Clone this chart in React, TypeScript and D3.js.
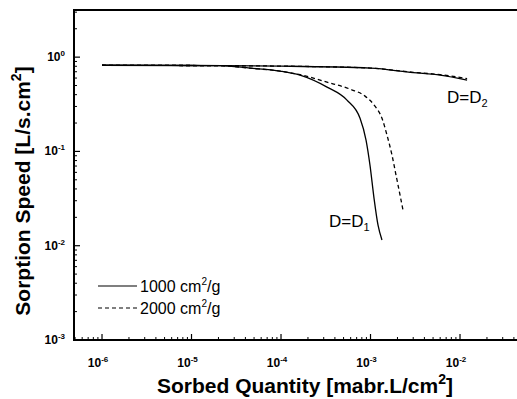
import React from "react";
import * as d3 from "d3";

// Data (x in mabr.L/cm², y in L/s.cm²)
const upperSolidX = [1e-6, 1e-5, 1e-4, 1e-3, 3e-3, 6e-3, 1.2e-2];
const upperSolidY = [0.82, 0.815, 0.803, 0.764, 0.685, 0.644, 0.57];
const upperDashX = [1e-6, 1e-5, 1e-4, 1e-3, 3e-3, 6e-3, 1.2e-2];
const upperDashY = [0.82, 0.815, 0.803, 0.766, 0.69, 0.652, 0.592];
const lowerSolidLogX = [-6, -5, -4.682, -4.346, -4.011, -3.788, -3.486, -3.263, -3.117, -3.05, -3.006, -2.961, -2.916, -2.872];
const lowerSolidY = [0.82, 0.815, 0.813, 0.764, 0.711, 0.644, 0.481, 0.35, 0.225, 0.132, 0.0716, 0.032, 0.0165, 0.0115];
const lowerDashLogX = [-6, -5, -4.682, -4.346, -4.011, -3.788, -3.486, -3.229, -3.061, -2.95, -2.872, -2.816, -2.76, -2.715, -2.67, -2.637];
const lowerDashY = [0.82, 0.815, 0.813, 0.764, 0.711, 0.652, 0.543, 0.458, 0.386, 0.302, 0.225, 0.149, 0.0914, 0.0561, 0.0344, 0.0239];

const xTickExps = [-6, -5, -4, -3, -2];
const yTickExps = [0, -1, -2, -3];
const legendLabels = ["1000", "2000"];

const W = 517;
const H = 399;
const left = 74;
const top = 10;
const bottom = 340;
const right = 521.5;

const x = d3.scaleLog().domain([Math.pow(10, -6.313), Math.pow(10, -1.313)]).range([left, right]);
const y = d3.scaleLog().domain([1e-3, Math.pow(10, 0.5)]).range([bottom, top]);

const line = d3
  .line<[number, number]>()
  .x((d) => x(d[0]))
  .y((d) => y(d[1]))
  .curve(d3.curveMonotoneX);

const zip = (xs: number[], ys: number[]): [number, number][] => xs.map((v, i) => [v, ys[i]]);
const zipLog = (lxs: number[], ys: number[]): [number, number][] => lxs.map((v, i) => [Math.pow(10, v), ys[i]]);

export default function App() {
  const font = "'Liberation Sans', Arial, sans-serif";
  const xMinor: number[] = [];
  for (let e = -7; e <= -2; e++) {
    for (let m = 2; m <= 9; m++) {
      const v = m * Math.pow(10, e);
      if (x(v) > left + 1 && x(v) < W) xMinor.push(v);
    }
  }
  const yMinor: number[] = [];
  for (let e = -3; e <= 0; e++) {
    for (let m = 2; m <= 9; m++) {
      const v = m * Math.pow(10, e);
      if (y(v) > top + 1 && y(v) < bottom) yMinor.push(v);
    }
  }
  return (
    <svg width={W} height={H} style={{ position: "absolute", left: 0, top: 0, background: "#fff" }}>
      <rect x={0} y={0} width={W} height={H} fill="#fff" />
      {/* curves */}
      <g fill="none" stroke="#000" strokeWidth={1.3}>
        <path d={line(zip(upperSolidX, upperSolidY)) || ""} />
        <path d={line(zip(upperDashX, upperDashY)) || ""} strokeDasharray="4,3" />
        <path d={line(zipLog(lowerSolidLogX, lowerSolidY)) || ""} />
        <path d={line(zipLog(lowerDashLogX, lowerDashY)) || ""} strokeDasharray="4,3" />
      </g>
      {/* frame */}
      <g stroke="#000" fill="none">
        <line x1={left} y1={top} x2={left} y2={bottom} strokeWidth={2} />
        <line x1={left - 1} y1={bottom} x2={W} y2={bottom} strokeWidth={2} />
        <line x1={left - 1} y1={top} x2={W} y2={top} strokeWidth={2} />
        {xTickExps.map((e) => (
          <line key={"xt" + e} x1={x(Math.pow(10, e))} x2={x(Math.pow(10, e))} y1={bottom} y2={bottom - 6} strokeWidth={1.2} />
        ))}
        {xMinor.map((v, i) => (
          <line key={"xm" + i} x1={x(v)} x2={x(v)} y1={bottom} y2={bottom - 3} strokeWidth={1} />
        ))}
        {yTickExps.map((e) => (
          <line key={"yt" + e} x1={left} x2={left + 6} y1={y(Math.pow(10, e))} y2={y(Math.pow(10, e))} strokeWidth={1.2} />
        ))}
        {yMinor.map((v, i) => (
          <line key={"ym" + i} x1={left} x2={left + 3} y1={y(v)} y2={y(v)} strokeWidth={1} />
        ))}
      </g>
      {/* tick labels */}
      <g fontFamily={font} fontWeight="bold" fill="#000">
        {xTickExps.map((e) => (
          <text key={"xl" + e} x={x(Math.pow(10, e)) - 4} y={367} textAnchor="middle" fontSize={12}>
            10<tspan fontSize={8} dy={-5}>{e}</tspan>
          </text>
        ))}
        {yTickExps.map((e) => (
          <text key={"yl" + e} x={65} y={y(Math.pow(10, e)) + 4} textAnchor="end" fontSize={12}>
            10<tspan fontSize={8} dy={-5}>{e}</tspan>
          </text>
        ))}
      </g>
      {/* axis titles */}
      <text x={305} y={393} textAnchor="middle" fontFamily={font} fontWeight="bold" fontSize={21}>
        Sorbed Quantity [mabr.L/cm<tspan fontSize={14} dy={-9}>2</tspan>
        <tspan dy={9}>]</tspan>
      </text>
      <text
        transform={`translate(30,${191}) rotate(-90)`}
        textAnchor="middle"
        fontFamily={font}
        fontWeight="bold"
        fontSize={21}
      >
        Sorption Speed [L/s.cm<tspan fontSize={14} dy={-9}>2</tspan>
        <tspan dy={9}>]</tspan>
      </text>
      {/* annotations */}
      <text x={447} y={103} fontFamily={font} fontSize={17}>
        D=D<tspan fontSize={11} dy={4}>2</tspan>
      </text>
      <text x={329} y={227} fontFamily={font} fontSize={17}>
        D=D<tspan fontSize={11} dy={4}>1</tspan>
      </text>
      {/* legend */}
      {legendLabels.map((lab, i) => {
        const ly = 286 + i * 22;
        return (
          <g key={lab}>
            <line x1={98} x2={137} y1={ly} y2={ly} stroke="#000" strokeWidth={1.2} strokeDasharray={i === 1 ? "4,3" : undefined} />
            <text x={140} y={ly + 6} fontFamily={font} fontSize={16}>
              {lab} cm<tspan fontSize={10} dy={-7}>2</tspan>
              <tspan dy={7}>/g</tspan>
            </text>
          </g>
        );
      })}
    </svg>
  );
}
